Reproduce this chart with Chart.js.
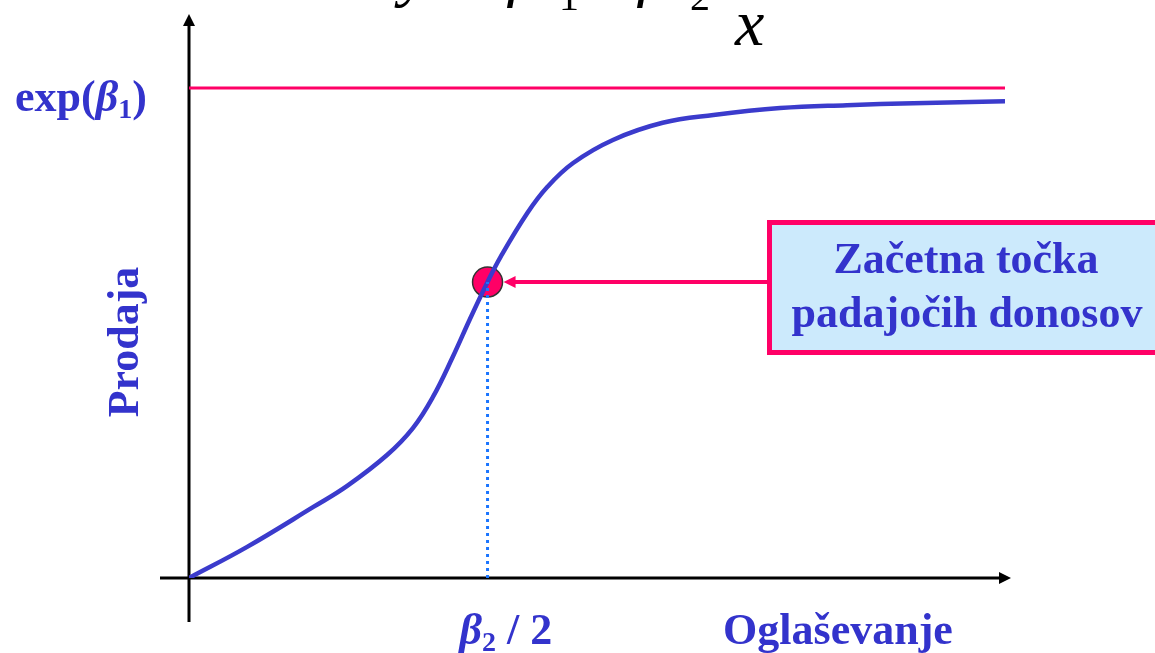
<!DOCTYPE html>
<html lang="sl">
<head>
  <meta charset="UTF-8">
  <title>Prodaja in oglaševanje</title>
  <script src="https://cdn.jsdelivr.net/npm/chart.js"></script>
  <style>
    body { margin: 0; background: #fff; }
    #wrap { width: 1155px; height: 653px; }
  </style>
</head>
<body>
  <div id="wrap"><canvas id="chart" width="1155" height="653"></canvas></div>

  <script>
    // S-krivulja: prodaja glede na oglaševanje (odčitano s slike)
    const curveX = [0, 0.58, 1.25, 1.59, 1.99, 2.25, 2.45, 2.65, 2.82, 3.0, 3.13, 3.40, 3.60, 3.86, 4.26, 4.76, 5.27, 5.94, 6.61, 7.28, 8.2];
    const curveY = [0, 0.63, 1.45, 1.88, 2.51, 3.06, 3.69, 4.51, 5.27, 6.04, 6.55, 7.45, 7.98, 8.47, 8.94, 9.29, 9.45, 9.59, 9.65, 9.69, 9.73];
    const asymptote = 10;        // exp(beta1)
    const turnPoint = [3, 6.04]; // beta2 / 2
    const xRange = [0, 8.2];
    const yRange = [0, 11.4];
    const boxLines = ['Začetna točka', 'padajočih donosov'];
    const axisTitles = ['Oglaševanje', 'Prodaja'];

    const BLUE = '#3333cc';
    const PINK = '#ff0066';
    const SERIF = '"Liberation Serif", "Times New Roman", serif';

    function drawParts(ctx, parts, x, y) {
      let cx = x;
      parts.forEach(p => {
        ctx.font = p.font;
        ctx.fillText(p.t, cx, y + (p.dy || 0));
        cx += ctx.measureText(p.t).width;
      });
    }

    const decor = {
      id: 'decor',
      beforeDatasetsDraw(chart) {
        const ctx = chart.ctx;
        const xs = chart.scales.x, ys = chart.scales.y;
        const x0 = xs.getPixelForValue(0), y0 = ys.getPixelForValue(0);
        ctx.save();
        ctx.strokeStyle = '#000';
        ctx.fillStyle = '#000';
        ctx.lineWidth = 3;
        // y os
        ctx.beginPath();
        ctx.moveTo(x0, 622);
        ctx.lineTo(x0, 24);
        ctx.stroke();
        ctx.beginPath();
        ctx.moveTo(x0, 14);
        ctx.lineTo(x0 - 6, 26);
        ctx.lineTo(x0 + 6, 26);
        ctx.closePath();
        ctx.fill();
        // x os
        const xEnd = xs.right + 2;
        ctx.beginPath();
        ctx.moveTo(160, y0);
        ctx.lineTo(xEnd - 8, y0);
        ctx.stroke();
        ctx.beginPath();
        ctx.moveTo(xEnd + 4, y0);
        ctx.lineTo(xEnd - 8, y0 - 6);
        ctx.lineTo(xEnd - 8, y0 + 6);
        ctx.closePath();
        ctx.fill();
        ctx.restore();
      },
      afterDatasetsDraw(chart) {
        const ctx = chart.ctx;
        const xs = chart.scales.x, ys = chart.scales.y;
        const px = xs.getPixelForValue(turnPoint[0]);
        const py = ys.getPixelForValue(turnPoint[1]);
        ctx.save();

        // puščica do točke
        ctx.strokeStyle = PINK;
        ctx.fillStyle = PINK;
        ctx.lineWidth = 4;
        ctx.beginPath();
        ctx.moveTo(770, py);
        ctx.lineTo(px + 26, py);
        ctx.stroke();
        ctx.beginPath();
        ctx.moveTo(px + 16, py);
        ctx.lineTo(px + 28, py - 6);
        ctx.lineTo(px + 28, py + 6);
        ctx.closePath();
        ctx.fill();

        // okvir
        ctx.fillStyle = '#cceafc';
        ctx.fillRect(770, 222, 400, 131);
        ctx.lineWidth = 5;
        ctx.strokeRect(769.5, 222.5, 400, 130);

        ctx.fillStyle = BLUE;
        ctx.textAlign = 'center';
        ctx.textBaseline = 'alphabetic';
        ctx.font = 'bold 44px ' + SERIF;
        ctx.fillText(boxLines[0], 966, 273);
        ctx.fillText(boxLines[1], 967, 327);

        // naslova osi
        ctx.fillText(axisTitles[0], 838, 644);
        ctx.save();
        ctx.translate(138, 342);
        ctx.rotate(-Math.PI / 2);
        ctx.fillText(axisTitles[1], 0, 0);
        ctx.restore();

        // oznaki na oseh
        ctx.textAlign = 'left';
        drawParts(ctx, [
          { t: 'exp(', font: 'bold 44px ' + SERIF },
          { t: 'β', font: 'italic bold 44px ' + SERIF },
          { t: '1', font: 'bold 28px ' + SERIF, dy: 7 },
          { t: ')', font: 'bold 44px ' + SERIF }
        ], 15, ys.getPixelForValue(asymptote) + 23);
        drawParts(ctx, [
          { t: 'β', font: 'italic bold 44px ' + SERIF },
          { t: '2', font: 'bold 28px ' + SERIF, dy: 7 },
          { t: ' / 2', font: 'bold 44px ' + SERIF }
        ], px - 28, 644);

        // odrezana formula na vrhu
        ctx.fillStyle = '#000';
        ctx.font = 'italic 66px ' + SERIF;
        ctx.fillText('y', 400, -6);
        ctx.fillText('β', 508, -6);
        ctx.fillText('β', 638, -6);
        ctx.fillText('x', 735, 45);
        ctx.font = '40px ' + SERIF;
        ctx.fillText('1', 559, 10);
        ctx.fillText('2', 690, 10);

        ctx.restore();
      }
    };

    const ctx = document.getElementById('chart').getContext('2d');
    new Chart(ctx, {
      type: 'scatter',
      data: {
        datasets: [
          {
            label: 'exp(β1)',
            data: xRange.map(x => ({ x: x, y: asymptote })),
            showLine: true,
            borderColor: PINK,
            borderWidth: 3,
            pointRadius: 0
          },
          {
            label: 'β2/2',
            data: [{ x: turnPoint[0], y: 0 }, { x: turnPoint[0], y: turnPoint[1] }],
            showLine: true,
            borderColor: '#1a75ff',
            borderWidth: 3,
            borderDash: [3, 4],
            pointRadius: 0
          },
          {
            label: 'Prodaja',
            data: curveX.map((x, i) => ({ x: x, y: curveY[i] })),
            showLine: true,
            borderColor: '#3b3bcc',
            borderWidth: 4.5,
            tension: 0.4,
            pointRadius: 0
          },
          {
            label: 'Začetna točka',
            data: [{ x: turnPoint[0], y: turnPoint[1] }],
            backgroundColor: PINK,
            borderColor: '#333',
            borderWidth: 1.5,
            pointRadius: 15
          }
        ]
      },
      options: {
        responsive: false,
        animation: false,
        devicePixelRatio: 1,
        layout: { padding: { left: 189, right: 150, top: 19.4, bottom: 75 } },
        plugins: { legend: { display: false }, tooltip: { enabled: false } },
        scales: {
          x: { type: 'linear', min: xRange[0], max: xRange[1], display: false },
          y: { type: 'linear', min: yRange[0], max: yRange[1], display: false }
        }
      },
      plugins: [decor]
    });
  </script>
</body>
</html>
